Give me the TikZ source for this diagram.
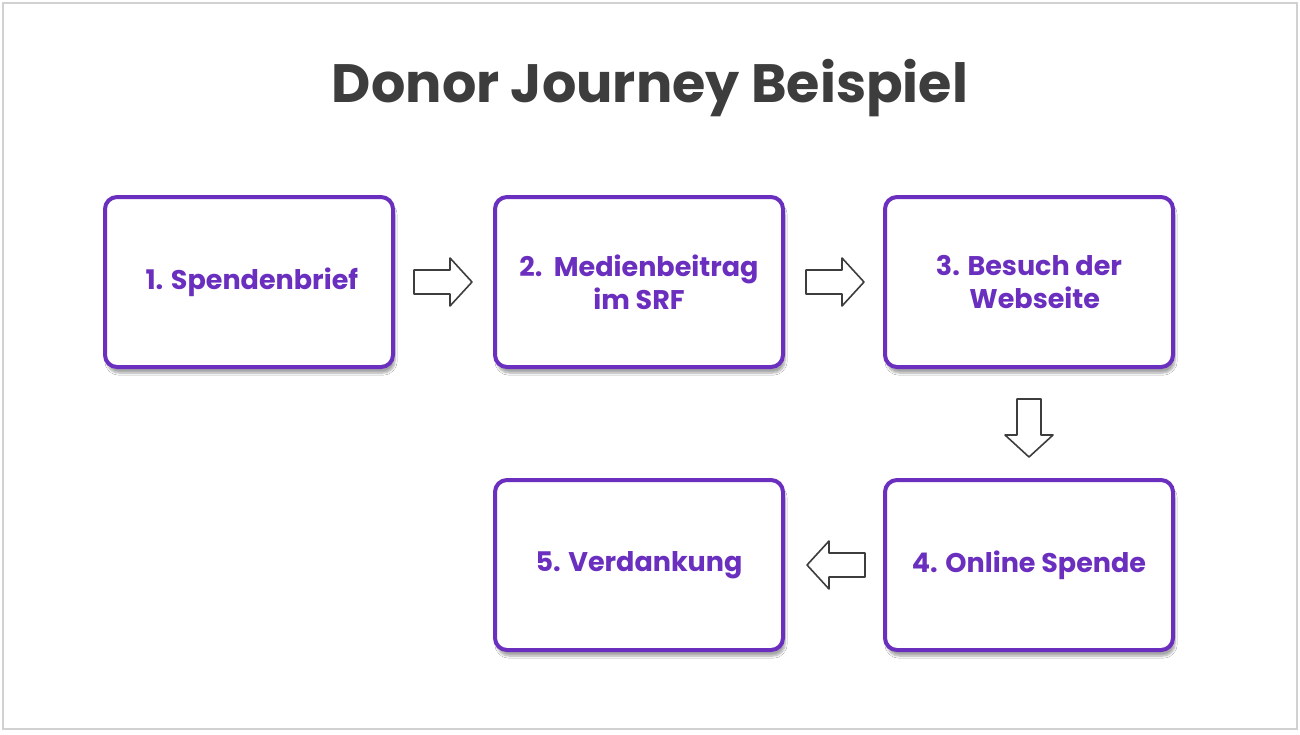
\documentclass[tikz,border=0pt]{standalone}
\usepackage{fontspec}
\setmainfont{Poppins}
\usetikzlibrary{shadows.blur}
\definecolor{purp}{HTML}{6B2FBF}
\definecolor{ttl}{HTML}{3D3D3D}
\tikzset{
 stepbox/.style={draw=purp,line width=4pt,rounded corners=12pt,fill=white,minimum width=288pt,minimum height=170pt,align=center,text=purp,font=\fontsize{27}{33}\selectfont\bfseries,
   blur shadow={shadow xshift=2pt,shadow yshift=-6pt,shadow blur steps=6,shadow opacity=35}},
 blk/.style={draw=ttl,line width=1.6pt,fill=white,line join=round},
 pics/blkarrow/.style={code={\draw[blk] (-29,-12) -- (7,-12) -- (7,-24) -- (29,0) -- (7,24) -- (7,12) -- (-29,12) -- cycle;}}
}
\begin{document}
\begin{tikzpicture}[x=1pt,y=-1pt]
\useasboundingbox (0,0) rectangle (1300,734);
\fill[white] (0,0) rectangle (1300,734);
\draw[black!18,line width=1.5pt] (3,3) rectangle (1297,729);
\node[text=ttl,font=\fontsize{54}{64}\selectfont\bfseries] (title) at (650,88) {Donor Journey Beispiel};
\node[stepbox] (b1) at (249,282) {\ 1. Spendenbrief};
\node[stepbox] (b2) at (639,282) {2.\ \ Medienbeitrag\\im SRF};
\node[stepbox] (b3) at (1029,282) {3. Besuch der\\\ \ Webseite};
\node[stepbox] (b4) at (1029,565) {4. Online Spende};
\node[stepbox] (b5) at (639,565) {5. Verdankung};
\coordinate (a1) at (443,282);
\coordinate (a2) at (835,282);
\coordinate (a3) at (1029,428);
\coordinate (a4) at (836,565);
\pic at (a1) {blkarrow};
\pic at (a2) {blkarrow};
\pic[rotate=-90] at (a3) {blkarrow};
\pic[rotate=180] at (a4) {blkarrow};
\end{tikzpicture}
\end{document}
